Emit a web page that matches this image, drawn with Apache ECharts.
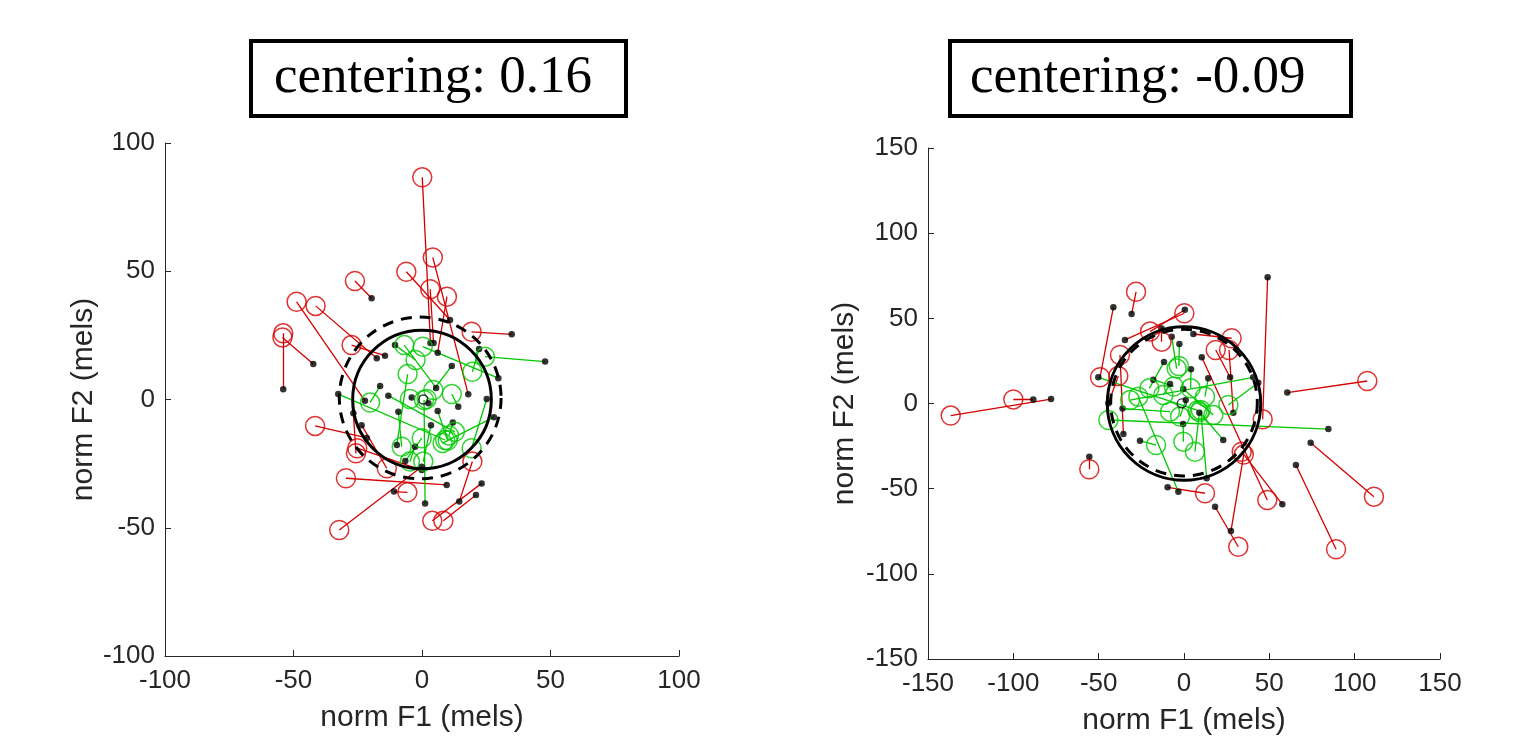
<!DOCTYPE html>
<html>
<head>
<meta charset="utf-8">
<script src="https://cdn.jsdelivr.net/npm/echarts@6/dist/echarts.min.js"></script>
<style>
html,body{margin:0;padding:0;background:#fff;}
#chart{width:1513px;height:741px;}
</style>
</head>
<body>
<div id="chart"></div>
<script>
// ---------- DATA ----------
const TITLES = ['centering: 0.16', 'centering: -0.09'];
const X_NAME = 'norm F1 (mels)';
const Y_NAME = 'norm F2 (mels)';
const LEFT_RANGE = [-100, 100];
const RIGHT_RANGE = [-150, 150];
const TICK_STEP = 50;

// Left panel: peripheral (red) trials, start point -> end point
const LEFT_RED_START = [
  [3.3, 22], [18, 2], [10.9, 31], [4.5, 22], [6.1, 18.2], [34.9, 25.4],
  [-19.6, 39.5], [-22.2, -0.5], [-17.6, 16.1], [-14.4, 17.1], [-54, 4],
  [-42.3, 13.8], [-21.5, -15], [-26.7, -5.4], [-0.1, -27.5], [-23.5, -10],
  [9.6, -33.3], [-10.9, -35.9], [-0.1, -26.2], [23.2, -32.7], [21, -37.2],
  [14.5, -39.8]
];
const LEFT_RED_END = [
  [0.1, 86.6], [4.2, 55.4], [-6.1, 49.8], [3.2, 43], [9.7, 40.1], [19.3, 26.4],
  [-26.1, 46.2], [-48.8, 38.1], [-41.4, 36.5], [-27.4, 21.2], [-54, 25.8],
  [-54.3, 24.2], [-41.6, -10.3], [-25.7, -21], [-25.2, -19], [-13.7, -26.8],
  [-29.6, -30.7], [-5.7, -36.2], [-32.2, -50.9], [4, -47.3], [8.3, -47.3],
  [19.6, -24.2]
];
// Left panel: central (green) trials
const LEFT_GREEN_START = [
  [47.9, 14.8], [29.7, 8.3], [22.2, 19.7], [5.5, 4.5], [-10.5, 21.2],
  [-9.8, -17.7], [-16.3, 5.3], [-32.6, 2.1], [-13.1, 1.5], [28, -6.9],
  [25.2, 0.2], [11.6, 13.1], [14.1, -2.8], [6.1, -4.5], [1.2, -40.5],
  [-9.2, -4.8], [-2.7, -18.4], [3.5, -10], [-6.5, -24], [-4, 0.8],
  [2.5, -1.5], [12, -9]
];
const LEFT_GREEN_END = [
  [24.5, 16.7], [0.3, 20.6], [19.6, 10.8], [-6.9, 21.2], [-2.5, 15.4],
  [-5.6, 9.9], [-20.2, -1.2], [9, -15.8], [12.8, -12.6], [8, -17],
  [19.3, -19], [4.4, 3.7], [11.6, 2.1], [10, -16], [0.8, -0.2],
  [-7.9, -18.4], [-4.7, -24.2], [0.5, -24.2], [-0.1, -15.1], [-4.7, 0.2],
  [1.8, 0.2], [10.5, -14]
];
const LEFT_MEAN = [[0.5, 0]];
const LEFT_SOLID_CIRCLE = [0, 0, 27];
const LEFT_DASHED_CIRCLE = [-0.7, 0.6, 31.5];

// Right panel: peripheral (red) trials
const RIGHT_RED_START = [
  [49, 74.1], [-30.7, 52.5], [-41.4, 56.5], [-34.6, 37.3], [0.5, 55],
  [-13.1, 44.1], [-35.5, -17.9], [-44.3, 0.1], [5.5, 40.8], [28.9, -5.4],
  [27, 15.4], [10.4, 27.1], [57.6, -59.2], [27.5, -74.9], [18.2, -60.6],
  [60.5, 6.4], [74.2, -23], [65.6, -36.1], [-9.6, -49.2], [-55.5, -31.2],
  [-77.9, 2.6], [-88.3, 2.4]
];
const RIGHT_RED_END = [
  [46.1, -9.3], [-28.1, 65.6], [-49.2, 15.4], [0.2, 53], [-19.9, 42.2],
  [-13.1, 36.3], [-37.5, 28.5], [-38.5, 16.1], [27.9, 38.3], [26.4, 31.4],
  [18.6, 31.4], [48.8, -56.7], [33.8, -28.3], [35, -30], [31.8, -84.1],
  [107.4, 13.2], [111.3, -54.7], [89.1, -85.6], [12.3, -52.7], [-55.5, -38.6],
  [-136.7, -7.1], [-100, 2.4]
];
// Right panel: central (green) trials
const RIGHT_GREEN_START = [
  [-50.2, 15.4], [84.6, -15], [40.6, 15.4], [-3.3, -51.8], [13.3, -43.9],
  [-25.8, -21.8], [23, -21.4], [-7.2, 39.2], [-2.7, 34.9], [-11.7, 24.4],
  [4.1, 20.1], [14.2, 14.8], [43.5, 12.2], [-0.4, 8.5], [-8.2, 11.4],
  [-0.5, -12], [-36, -3], [9, -5.5], [1, 2], [-18, 14]
];
const RIGHT_GREEN_END = [
  [8, -4], [-44.3, -9.7], [-31.6, 2], [-26.8, 4], [9.8, -3.8],
  [-16.4, -24.4], [9, -5], [-4.3, 20.5], [-3, 22], [-20.3, 8.9],
  [3.9, 8.9], [12.3, 4], [26, -0.9], [17.2, -6.8], [-12.1, 5],
  [-0.4, -22.4], [-8.2, -4.8], [6.4, -28.3], [-2.3, -7.7], [-6, 10]
];
const RIGHT_MEAN = [[-1.3, 0.1]];
const RIGHT_SOLID_CIRCLE = [0, 0, 45];
const RIGHT_DASHED_CIRCLE = [0, 0.5, 43];

// ---------- STYLE ----------
const RED = '#d40000';
const GREEN = '#00c800';
const AXIS_COLOR = '#262626';
const SANS = "'Liberation Sans', Arial, Helvetica, sans-serif";
const SERIF = "'Liberation Serif', 'Times New Roman', serif";

function pairs(s, e) { return s.map((p, i) => ({ coords: [p, e[i]] })); }

function refCircle(idx, c, dashed) {
  return {
    type: 'custom', xAxisIndex: idx, yAxisIndex: idx, z: 10, silent: true,
    data: [c], encode: { x: 0, y: 1 },
    renderItem: function (params, api) {
      const p = api.coord([api.value(0), api.value(1)]);
      const s = api.size([api.value(2), api.value(2)]);
      return {
        type: 'circle',
        shape: { cx: p[0], cy: p[1], r: (s[0] + s[1]) / 2 },
        style: { fill: 'none', stroke: '#000', lineWidth: 3, lineDash: dashed ? [11, 8] : null }
      };
    }
  };
}

function panelSeries(idx, rs, re, gs, ge, mean, solid, dashed) {
  return [
    { type: 'lines', coordinateSystem: 'cartesian2d', xAxisIndex: idx, yAxisIndex: idx, z: 2,
      lineStyle: { color: RED, width: 1.3, opacity: 1 }, data: pairs(rs, re), silent: true },
    { type: 'lines', coordinateSystem: 'cartesian2d', xAxisIndex: idx, yAxisIndex: idx, z: 2,
      lineStyle: { color: GREEN, width: 1.3, opacity: 1 }, data: pairs(gs, ge), silent: true },
    { type: 'scatter', xAxisIndex: idx, yAxisIndex: idx, z: 3, symbol: 'circle', symbolSize: 6.5,
      itemStyle: { color: '#000' }, data: rs.concat(gs), silent: true },
    { type: 'scatter', xAxisIndex: idx, yAxisIndex: idx, z: 4, symbol: 'circle', symbolSize: 19,
      itemStyle: { color: 'rgba(0,0,0,0)', borderColor: RED, borderWidth: 1.5 }, data: re, silent: true },
    { type: 'scatter', xAxisIndex: idx, yAxisIndex: idx, z: 4, symbol: 'circle', symbolSize: 19,
      itemStyle: { color: 'rgba(0,0,0,0)', borderColor: GREEN, borderWidth: 1.5 }, data: ge, silent: true },
    { type: 'scatter', xAxisIndex: idx, yAxisIndex: idx, z: 5, symbol: 'circle', symbolSize: 9,
      itemStyle: { color: 'rgba(0,0,0,0)', borderColor: '#000', borderWidth: 1.3 }, data: mean, silent: true },
    refCircle(idx, solid, false),
    refCircle(idx, dashed, true)
  ];
}

function xAxis(idx, range) {
  return {
    type: 'value', gridIndex: idx, min: range[0], max: range[1], interval: TICK_STEP,
    name: X_NAME, nameLocation: 'middle', nameGap: 47,
    nameTextStyle: { fontFamily: SANS, fontSize: 30, color: AXIS_COLOR },
    axisLine: { show: true, onZero: false, lineStyle: { color: AXIS_COLOR, width: 1 } },
    axisTick: { show: true, inside: true, length: 6, lineStyle: { color: AXIS_COLOR } },
    axisLabel: { fontFamily: SANS, fontSize: 26, color: AXIS_COLOR, margin: 12 },
    splitLine: { show: false }
  };
}
function yAxis(idx, range, gap) {
  return {
    type: 'value', gridIndex: idx, min: range[0], max: range[1], interval: TICK_STEP,
    name: Y_NAME, nameLocation: 'middle', nameGap: gap, nameRotate: 90,
    nameTextStyle: { fontFamily: SANS, fontSize: 30, color: AXIS_COLOR },
    axisLine: { show: true, onZero: false, lineStyle: { color: AXIS_COLOR, width: 1 } },
    axisTick: { show: true, inside: true, length: 6, lineStyle: { color: AXIS_COLOR } },
    axisLabel: { fontFamily: SANS, fontSize: 26, color: AXIS_COLOR, margin: 10 },
    splitLine: { show: false }
  };
}

const chart = echarts.init(document.getElementById('chart'), null, { renderer: 'canvas' });
chart.setOption({
  animation: false,
  backgroundColor: '#fff',
  title: [
    { text: TITLES[0], left: 251, top: 41, padding: [9, 34, 9, 23],
      borderColor: '#000', borderWidth: 4,
      textStyle: { fontFamily: SERIF, fontSize: 53, fontWeight: 'normal', color: '#000', lineHeight: 57 } },
    { text: TITLES[1], left: 950, top: 41, padding: [9, 46, 9, 20],
      borderColor: '#000', borderWidth: 4,
      textStyle: { fontFamily: SERIF, fontSize: 53, fontWeight: 'normal', color: '#000', lineHeight: 57 } }
  ],
  grid: [
    { left: 165, top: 143, width: 514, height: 513, containLabel: false },
    { left: 928, top: 148, width: 512, height: 511, containLabel: false }
  ],
  xAxis: [xAxis(0, LEFT_RANGE), xAxis(1, RIGHT_RANGE)],
  yAxis: [yAxis(0, LEFT_RANGE, 65), yAxis(1, RIGHT_RANGE, 68)],
  series: panelSeries(0, LEFT_RED_START, LEFT_RED_END, LEFT_GREEN_START, LEFT_GREEN_END,
                      LEFT_MEAN, LEFT_SOLID_CIRCLE, LEFT_DASHED_CIRCLE)
    .concat(panelSeries(1, RIGHT_RED_START, RIGHT_RED_END, RIGHT_GREEN_START, RIGHT_GREEN_END,
                        RIGHT_MEAN, RIGHT_SOLID_CIRCLE, RIGHT_DASHED_CIRCLE))
});
</script>
</body>
</html>
